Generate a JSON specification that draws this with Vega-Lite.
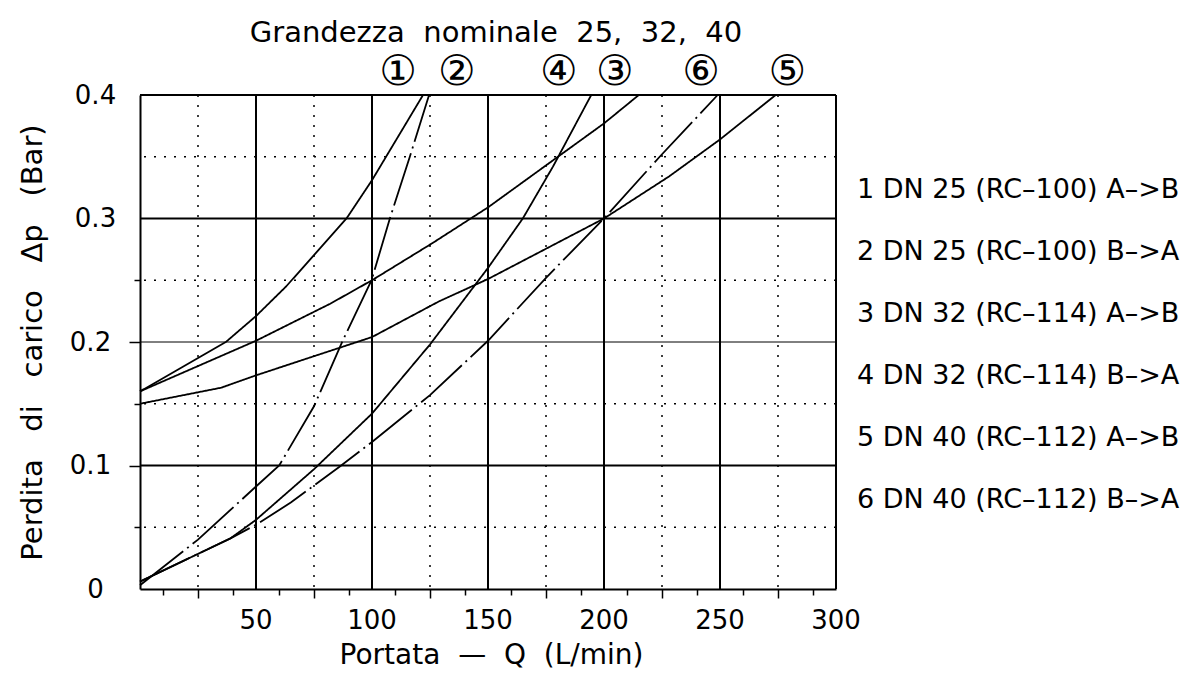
{
  "$schema": "https://vega.github.io/schema/vega-lite/v6.json",
  "width": 696,
  "height": 494,
  "autosize": {"type": "none"},
  "padding": {"left": 140, "top": 95, "right": 358, "bottom": 84},
  "background": "white",
  "config": {"font": "DejaVu Sans", "view": {"stroke": null}},
  "title": {"text": "Grandezza \u00a0nominale \u00a025, \u00a032, \u00a040", "frame": "group", "anchor": "middle", "offset": 3, "fontSize": 29, "fontWeight": "normal", "color": "black", "dx": 8},
  "datasets": {
    "vsolid": [{"Q": 50}, {"Q": 100}, {"Q": 150}, {"Q": 200}, {"Q": 250}, {"Q": 300}],
    "vdot": [{"Q": 25}, {"Q": 75}, {"Q": 125}, {"Q": 175}, {"Q": 225}, {"Q": 275}],
    "hsolid": [{"dp": 0.1}, {"dp": 0.3}, {"dp": 0.4}],
    "hthin": [{"dp": 0.2}],
    "hdot": [{"dp": 0.05}, {"dp": 0.15}, {"dp": 0.25}, {"dp": 0.35}],
    "xlab": [{"Q": 50}, {"Q": 100}, {"Q": 150}, {"Q": 200}, {"Q": 250}, {"Q": 300}],
    "circ": [
      {"label": "①", "Q": 111.2, "dp": 0.419},
      {"label": "②", "Q": 136.6, "dp": 0.419},
      {"label": "④", "Q": 180.5, "dp": 0.419},
      {"label": "③", "Q": 204.7, "dp": 0.419},
      {"label": "⑥", "Q": 241.8, "dp": 0.419},
      {"label": "⑤", "Q": 279.0, "dp": 0.419}
    ],
    "curves": [
      {"name": "1 DN 25 (RC–100) A–>B", "style": "solid", "Q": 0, "dp": 0.16},
      {"name": "1 DN 25 (RC–100) A–>B", "style": "solid", "Q": 37, "dp": 0.2},
      {"name": "1 DN 25 (RC–100) A–>B", "style": "solid", "Q": 50, "dp": 0.221},
      {"name": "1 DN 25 (RC–100) A–>B", "style": "solid", "Q": 63, "dp": 0.245},
      {"name": "1 DN 25 (RC–100) A–>B", "style": "solid", "Q": 89, "dp": 0.3},
      {"name": "1 DN 25 (RC–100) A–>B", "style": "solid", "Q": 100, "dp": 0.331},
      {"name": "1 DN 25 (RC–100) A–>B", "style": "solid", "Q": 122, "dp": 0.4},

      {"name": "2 DN 25 (RC–100) B–>A", "style": "dashdot", "Q": 0, "dp": 0.003},
      {"name": "2 DN 25 (RC–100) B–>A", "style": "dashdot", "Q": 25, "dp": 0.04},
      {"name": "2 DN 25 (RC–100) B–>A", "style": "dashdot", "Q": 50, "dp": 0.083},
      {"name": "2 DN 25 (RC–100) B–>A", "style": "dashdot", "Q": 60, "dp": 0.1},
      {"name": "2 DN 25 (RC–100) B–>A", "style": "dashdot", "Q": 75, "dp": 0.148},
      {"name": "2 DN 25 (RC–100) B–>A", "style": "dashdot", "Q": 87.6, "dp": 0.202},
      {"name": "2 DN 25 (RC–100) B–>A", "style": "dashdot", "Q": 99.8, "dp": 0.25},
      {"name": "2 DN 25 (RC–100) B–>A", "style": "dashdot", "Q": 107.7, "dp": 0.3},
      {"name": "2 DN 25 (RC–100) B–>A", "style": "dashdot", "Q": 116.3, "dp": 0.35},
      {"name": "2 DN 25 (RC–100) B–>A", "style": "dashdot", "Q": 124.6, "dp": 0.4},

      {"name": "3 DN 32 (RC–114) A–>B", "style": "solid", "Q": 0, "dp": 0.16},
      {"name": "3 DN 32 (RC–114) A–>B", "style": "solid", "Q": 50, "dp": 0.201},
      {"name": "3 DN 32 (RC–114) A–>B", "style": "solid", "Q": 82, "dp": 0.231},
      {"name": "3 DN 32 (RC–114) A–>B", "style": "solid", "Q": 100, "dp": 0.25},
      {"name": "3 DN 32 (RC–114) A–>B", "style": "solid", "Q": 126, "dp": 0.28},
      {"name": "3 DN 32 (RC–114) A–>B", "style": "solid", "Q": 150, "dp": 0.309},
      {"name": "3 DN 32 (RC–114) A–>B", "style": "solid", "Q": 200, "dp": 0.377},
      {"name": "3 DN 32 (RC–114) A–>B", "style": "solid", "Q": 215, "dp": 0.4},

      {"name": "4 DN 32 (RC–114) B–>A", "style": "solid", "Q": 0, "dp": 0.006},
      {"name": "4 DN 32 (RC–114) B–>A", "style": "solid", "Q": 39, "dp": 0.041},
      {"name": "4 DN 32 (RC–114) B–>A", "style": "solid", "Q": 50, "dp": 0.056},
      {"name": "4 DN 32 (RC–114) B–>A", "style": "solid", "Q": 75, "dp": 0.097},
      {"name": "4 DN 32 (RC–114) B–>A", "style": "solid", "Q": 100, "dp": 0.142},
      {"name": "4 DN 32 (RC–114) B–>A", "style": "solid", "Q": 125, "dp": 0.198},
      {"name": "4 DN 32 (RC–114) B–>A", "style": "solid", "Q": 150, "dp": 0.26},
      {"name": "4 DN 32 (RC–114) B–>A", "style": "solid", "Q": 165, "dp": 0.3},
      {"name": "4 DN 32 (RC–114) B–>A", "style": "solid", "Q": 178, "dp": 0.342},
      {"name": "4 DN 32 (RC–114) B–>A", "style": "solid", "Q": 194.5, "dp": 0.4},

      {"name": "5 DN 40 (RC–112) A–>B", "style": "solid", "Q": 0, "dp": 0.15},
      {"name": "5 DN 40 (RC–112) A–>B", "style": "solid", "Q": 35, "dp": 0.163},
      {"name": "5 DN 40 (RC–112) A–>B", "style": "solid", "Q": 50, "dp": 0.173},
      {"name": "5 DN 40 (RC–112) A–>B", "style": "solid", "Q": 100, "dp": 0.204},
      {"name": "5 DN 40 (RC–112) A–>B", "style": "solid", "Q": 129, "dp": 0.233},
      {"name": "5 DN 40 (RC–112) A–>B", "style": "solid", "Q": 150, "dp": 0.251},
      {"name": "5 DN 40 (RC–112) A–>B", "style": "solid", "Q": 200, "dp": 0.3},
      {"name": "5 DN 40 (RC–112) A–>B", "style": "solid", "Q": 228, "dp": 0.334},
      {"name": "5 DN 40 (RC–112) A–>B", "style": "solid", "Q": 250, "dp": 0.364},
      {"name": "5 DN 40 (RC–112) A–>B", "style": "solid", "Q": 274, "dp": 0.4},

      {"name": "6 DN 40 (RC–112) B–>A", "style": "dashdot", "Q": 0, "dp": 0.006},
      {"name": "6 DN 40 (RC–112) B–>A", "style": "dashdot", "Q": 39, "dp": 0.041},
      {"name": "6 DN 40 (RC–112) B–>A", "style": "dashdot", "Q": 50, "dp": 0.052},
      {"name": "6 DN 40 (RC–112) B–>A", "style": "dashdot", "Q": 65, "dp": 0.07},
      {"name": "6 DN 40 (RC–112) B–>A", "style": "dashdot", "Q": 86, "dp": 0.099},
      {"name": "6 DN 40 (RC–112) B–>A", "style": "dashdot", "Q": 100, "dp": 0.119},
      {"name": "6 DN 40 (RC–112) B–>A", "style": "dashdot", "Q": 125, "dp": 0.157},
      {"name": "6 DN 40 (RC–112) B–>A", "style": "dashdot", "Q": 150, "dp": 0.201},
      {"name": "6 DN 40 (RC–112) B–>A", "style": "dashdot", "Q": 175, "dp": 0.252},
      {"name": "6 DN 40 (RC–112) B–>A", "style": "dashdot", "Q": 200, "dp": 0.3},
      {"name": "6 DN 40 (RC–112) B–>A", "style": "dashdot", "Q": 224, "dp": 0.35},
      {"name": "6 DN 40 (RC–112) B–>A", "style": "dashdot", "Q": 249, "dp": 0.4}
    ]
  },
  "layer": [
    {
      "data": {"name": "vdot"},
      "mark": {"type": "rule", "color": "black", "strokeWidth": 1.5, "strokeDash": [2, 8]},
      "encoding": {"x": {"field": "Q", "type": "quantitative", "scale": {"domain": [0, 300], "nice": false, "zero": false}}}
    },
    {
      "data": {"name": "hdot"},
      "mark": {"type": "rule", "color": "black", "strokeWidth": 1.5, "strokeDash": [2, 8]},
      "encoding": {"y": {"field": "dp", "type": "quantitative", "scale": {"domain": [0, 0.4], "nice": false}}}
    },
    {
      "data": {"name": "vsolid"},
      "mark": {"type": "rule", "color": "black", "strokeWidth": 2},
      "encoding": {"x": {"field": "Q", "type": "quantitative"}}
    },
    {
      "data": {"name": "hsolid"},
      "mark": {"type": "rule", "color": "black", "strokeWidth": 2},
      "encoding": {"y": {"field": "dp", "type": "quantitative"}}
    },
    {
      "data": {"name": "hthin"},
      "mark": {"type": "rule", "color": "black", "strokeWidth": 1},
      "encoding": {"y": {"field": "dp", "type": "quantitative"}}
    },
    {
      "data": {"name": "curves"},
      "mark": {"type": "line", "strokeWidth": 1.8, "clip": false},
      "encoding": {
        "x": {
          "field": "Q", "type": "quantitative",
          "axis": {
            "values": [10, 20, 25, 30, 40, 50, 60, 70, 75, 80, 90, 100, 110, 120, 125, 130, 140, 150, 160, 170, 175, 180, 190, 200, 210, 220, 225, 230, 240, 250, 260, 270, 275, 280, 290, 300],
            "labels": false,
            "grid": false,
            "domainColor": "black", "domainWidth": 2,
            "tickColor": "black", "tickWidth": 1.5,
            "tickSize": {"condition": {"test": "datum.value % 50 === 25", "value": 9}, "value": 6},
            "title": "Portata \u00a0— \u00a0Q \u00a0(L/min)",
            "titleFontSize": 28, "titleFontWeight": "normal", "titleColor": "black",
            "titleX": 351, "titleY": 66, "titleBaseline": "middle", "titleAlign": "center"
          }
        },
        "y": {
          "field": "dp", "type": "quantitative",
          "axis": {
            "values": [0, 0.05, 0.1, 0.15, 0.2, 0.25, 0.3, 0.4],
            "labelExpr": "datum.value === 0 ? '0' : (indexof([0.1, 0.2, 0.3, 0.4], datum.value) >= 0 ? format(datum.value, '.1f') : '')",
            "grid": false,
            "domainColor": "black", "domainWidth": 2,
            "tickColor": "black", "tickWidth": 1.5,
            "tickSize": {"condition": {"test": "datum.value === 0.1 || datum.value === 0.2", "value": 11}, "value": 6},
            "tickOpacity": {"condition": {"test": "datum.value > 0 && datum.value < 0.28", "value": 1}, "value": 0},
            "labelAlign": "center",
            "labelPadding": 39,
            "labelFontSize": 26, "labelColor": "black",
            "labelOverlap": false, "labelFlush": false,
            "title": "Perdita \u00a0\u00a0di \u00a0\u00a0carico \u00a0\u00a0Δp \u00a0\u00a0(Bar)",
            "titleFontSize": 29, "titleFontWeight": "normal", "titleColor": "black",
            "titleAngle": 270,
            "titleX": -108, "titleY": 247, "titleBaseline": "middle", "titleAlign": "center"
          }
        },
        "color": {
          "field": "name", "type": "nominal",
          "scale": {"range": ["black", "black", "black", "black", "black", "black"]},
          "legend": {
            "orient": "none", "legendX": 690, "legendY": 81,
            "title": null, "symbolSize": 0, "symbolOpacity": 0, "symbolStrokeWidth": 0,
            "labelOffset": 0, "labelFontSize": 27, "labelColor": "black", "labelLimit": 500,
            "rowPadding": 34
          }
        },
        "strokeDash": {
          "field": "style", "type": "nominal",
          "scale": {"domain": ["solid", "dashdot"], "range": [[1, 0], [55, 5, 2, 5]]},
          "legend": null
        }
      }
    },
    {
      "data": {"name": "xlab"},
      "mark": {"type": "text", "fontSize": 26, "baseline": "top", "align": "center", "dy": 19, "clip": false, "color": "black"},
      "encoding": {
        "x": {"field": "Q", "type": "quantitative"},
        "y": {"datum": 0, "type": "quantitative"},
        "text": {"field": "Q", "type": "quantitative", "format": "d"}
      }
    },
    {
      "data": {"name": "circ"},
      "mark": {"type": "text", "fontSize": 42, "font": "DejaVu Sans", "baseline": "middle", "align": "center", "clip": false, "color": "black"},
      "encoding": {
        "x": {"field": "Q", "type": "quantitative"},
        "y": {"field": "dp", "type": "quantitative"},
        "text": {"field": "label"}
      }
    }
  ]
}
